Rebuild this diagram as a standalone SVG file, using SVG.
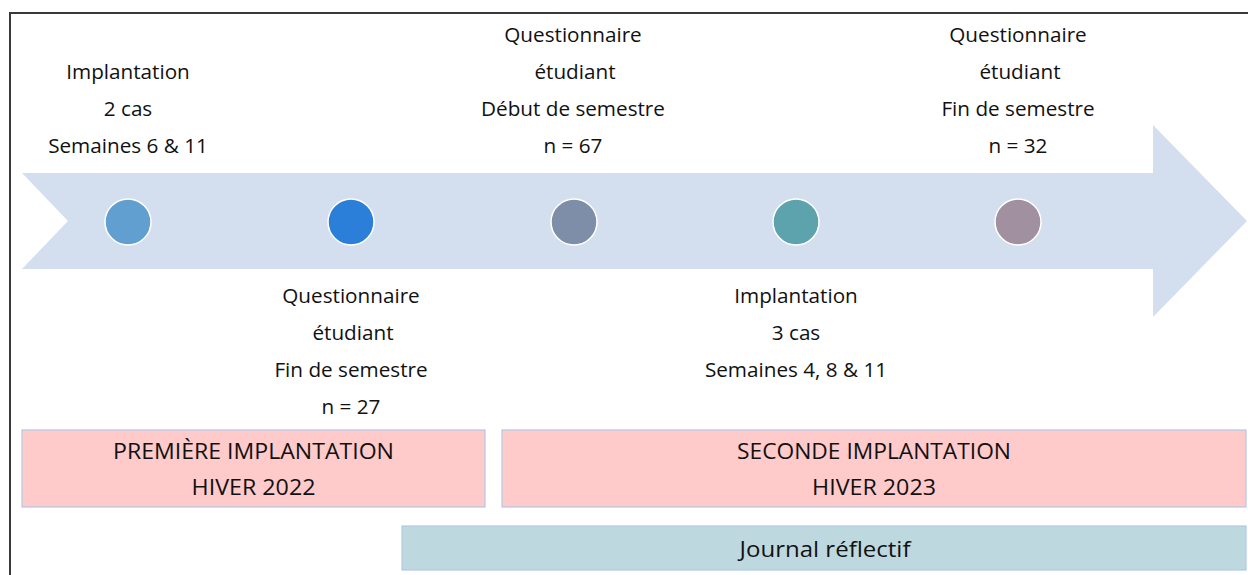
<svg xmlns="http://www.w3.org/2000/svg" width="1248" height="575" viewBox="0 0 1248 575">
  <style>
    .lbl { font-family: "Open Sans", "Liberation Sans", sans-serif; font-size: 20.7px; fill: #111; text-anchor: middle; }
    .big { font-family: "Open Sans", "Liberation Sans", sans-serif; font-size: 21.5px; fill: #111; text-anchor: middle; }
    .dot { stroke: #ffffff; stroke-width: 1.5; }
    .period { fill: #FFCACA; stroke: #B4C7E7; stroke-width: 1.2; }
    .journal { fill: #BDD9DF; stroke: #B4C7E7; stroke-width: 1.2; }
  </style>

  <rect width="1248" height="575" fill="#ffffff"/>

  <!-- frame: only top and left edges are inside the canvas -->
  <path d="M10,575 V13 H1248" fill="none" stroke="#3a3a3a" stroke-width="2"/>

  <!-- timeline arrow -->
  <g id="timeline">
    <polygon points="22,173 1153,173 1153,125 1247,221 1153,317 1153,269 22,269 68,221" fill="#D3DFEE"/>
  </g>

  <g id="connectors"></g>

  <!-- milestone 1 -->
  <g id="m1">
    <circle class="dot" cx="128" cy="222" r="23" fill="#629FD1"/>
    <text class="lbl" x="128" y="79">Implantation</text>
    <text class="lbl" x="128" y="116">2 cas</text>
    <text class="lbl" x="128" y="153">Semaines 6 &amp; 11</text>
  </g>

  <!-- milestone 2 -->
  <g id="m2">
    <circle class="dot" cx="351" cy="222" r="23" fill="#2B7FD8"/>
    <text class="lbl" x="351" y="303">Questionnaire</text>
    <text class="lbl" x="353" y="340">étudiant</text>
    <text class="lbl" x="351" y="377">Fin de semestre</text>
    <text class="lbl" x="351" y="414">n = 27</text>
  </g>

  <!-- milestone 3 -->
  <g id="m3">
    <circle class="dot" cx="574" cy="222" r="23" fill="#7F8EA8"/>
    <text class="lbl" x="573" y="42">Questionnaire</text>
    <text class="lbl" x="575" y="79">étudiant</text>
    <text class="lbl" x="573" y="116">Début de semestre</text>
    <text class="lbl" x="573" y="153">n = 67</text>
  </g>

  <!-- milestone 4 -->
  <g id="m4">
    <circle class="dot" cx="796" cy="222" r="23" fill="#5CA3AE"/>
    <text class="lbl" x="796" y="303">Implantation</text>
    <text class="lbl" x="796" y="340">3 cas</text>
    <text class="lbl" x="796" y="377">Semaines 4, 8 &amp; 11</text>
  </g>

  <!-- milestone 5 -->
  <g id="m5">
    <circle class="dot" cx="1018" cy="222" r="23" fill="#A090A0"/>
    <text class="lbl" x="1018" y="42">Questionnaire</text>
    <text class="lbl" x="1020" y="79">étudiant</text>
    <text class="lbl" x="1018" y="116">Fin de semestre</text>
    <text class="lbl" x="1018" y="153">n = 32</text>
  </g>

  <!-- periods -->
  <g id="period1">
    <rect class="period" x="22" y="430" width="463" height="77"/>
    <text class="big" x="253.5" y="459" textLength="281" lengthAdjust="spacingAndGlyphs">PREMIÈRE IMPLANTATION</text>
    <text class="big" x="253.5" y="495" textLength="124" lengthAdjust="spacingAndGlyphs">HIVER 2022</text>
  </g>

  <g id="period2">
    <rect class="period" x="502" y="430" width="744" height="77"/>
    <text class="big" x="874" y="459" textLength="274" lengthAdjust="spacingAndGlyphs">SECONDE IMPLANTATION</text>
    <text class="big" x="874" y="495" textLength="124" lengthAdjust="spacingAndGlyphs">HIVER 2023</text>
  </g>

  <g id="journal">
    <rect class="journal" x="402" y="526" width="844" height="44"/>
    <text class="big" x="825" y="557" textLength="171" lengthAdjust="spacingAndGlyphs">Journal réflectif</text>
  </g>
</svg>
